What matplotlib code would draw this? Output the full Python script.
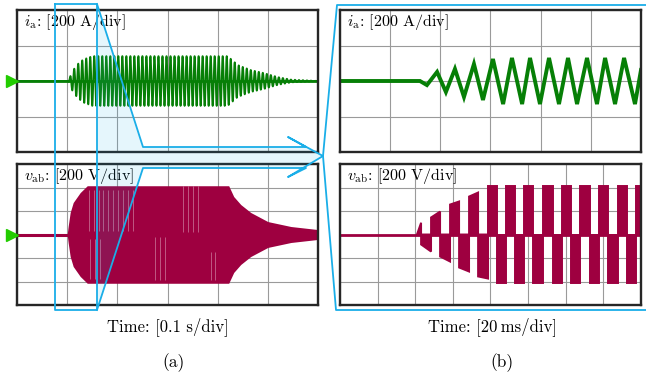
import numpy as np
import matplotlib
matplotlib.use("Agg")
import matplotlib.pyplot as plt
from matplotlib.patches import Polygon

plt.rcParams["mathtext.fontset"] = "cm"
plt.rcParams["font.family"] = ["cmr10", "DejaVu Serif"]

# ---------------- data ----------------
# (a) overview, 0.1 s/div, 6 divisions
ia_env_t = [0.0, 0.102, 0.110, 0.120, 0.132, 0.150, 0.420, 0.440, 0.466, 0.492, 0.520, 0.546, 0.600]
ia_env_A = [0, 0, 53, 93, 121, 140, 140, 90, 62, 45, 22, 8, 0]
ia_carrier_hz = 125.0

vab_env_t = [0.0, 0.100, 0.102, 0.106, 0.112, 0.126, 0.140, 0.422, 0.432, 0.446, 0.466, 0.500, 0.546, 0.600]
vab_env_V = [0, 0, 70, 187, 272, 357, 415, 415, 323, 255, 187, 110, 68, 42]

# thin switching gaps visible inside the voltage band: time [s], from [V], to [V]
vab_gap_t = [0.144, 0.154, 0.164, 0.172, 0.182, 0.192, 0.202, 0.212, 0.222, 0.232,
             0.330, 0.340, 0.350, 0.360,
             0.146, 0.156, 0.166,
             0.276, 0.286, 0.296,
             0.386, 0.394]
vab_gap_lo = [30, 30, 30, 30, 30, 30, 30, 30, 30, 30,
              25, 25, 25, 25,
              -380, -380, -380,
              -25, -25, -25,
              -145, -145]
vab_gap_hi = [380, 380, 380, 380, 380, 380, 380, 380, 380, 380,
              410, 410, 410, 410,
              -40, -40, -40,
              -383, -383, -383,
              -383, -383]

# (b) zoom, 20 ms/div
ib_t = [0.0, 42.5, 46.2, 51.6, 56.3, 61.1, 65.9, 71.2, 76.0, 81.3, 86.7, 91.4, 96.8,
        101.0, 106.3, 111.1, 116.4, 121.2, 126.0, 131.3, 136.6, 140.9, 146.2, 151.0,
        156.8, 160.0]
ib_A = [0, 0, -23, 51, -62, 68, -90, 96, -107, 124, -130, 130, -130,
        130, -130, 130, -130, 130, -130, 130, -130, 130, -130, 130,
        -130, 62]

vb_edges = [40.9, 43.1, 48.4, 53.2, 58.5, 63.3, 68.6, 73.4, 78.7, 83.5, 88.2, 93.0, 97.8,
            102.6, 107.9, 113.2, 118.0, 122.8, 127.6, 132.9, 137.7, 142.5, 147.8, 152.6,
            157.4, 160.0]
vb_h_start = [0, -85, 145, -187, 255, -281, 323, -357, 415, -410, 415, -410, 415,
              -410, 415, -410, 415, -410, 415, -410, 415, -410, 415, -410, 415]
vb_h_end = [100, -145, 195, -230, 281, -315, 357, -375, 415, -410, 415, -410, 415,
            -410, 415, -410, 415, -410, 415, -410, 415, -410, 415, -410, 415]

# ---------------- style ----------------
GREEN = "#067f06"
MAGENTA = "#9e0040"
MARK = "#22cc00"
CYAN = "#1aaee8"
GRID = "#9a9a9a"
FRAME = "#262626"

W, H = 646, 377
fig = plt.figure(figsize=(W / 100, H / 100), dpi=100)


def px_axes(x0, y0, x1, y1):
    return fig.add_axes([x0 / W, 1 - y1 / H, (x1 - x0) / W, (y1 - y0) / H])


def scope(ax, xlim, nx, ylim, ny):
    ax.set_xlim(*xlim)
    ax.set_ylim(*ylim)
    ax.set_xticks(np.linspace(xlim[0], xlim[1], nx + 1))
    ax.set_yticks(np.linspace(ylim[0], ylim[1], ny + 1))
    ax.tick_params(length=0, labelleft=False, labelbottom=False)
    ax.grid(True, color=GRID, lw=0.8)
    ax.set_axisbelow(True)
    for s in ax.spines.values():
        s.set_color(FRAME)
        s.set_linewidth(1.7)
        s.set_zorder(5)


def label(ax, txt):
    ax.text(0.024, 0.915, txt, transform=ax.transAxes, ha="left", va="center",
            fontsize=11.5, zorder=6)


def marker(ax):
    ax.plot([-0.017], [0], marker=">", ms=8, color=MARK, mec=MARK,
            transform=ax.get_yaxis_transform(), clip_on=False, zorder=6)


# (a) current
ax1 = px_axes(17, 10, 318, 152)
scope(ax1, (0, 0.6), 6, (-400, 400), 4)
ta = np.linspace(0, 0.6, 30000)
ia = np.interp(ta, ia_env_t, ia_env_A) * np.sin(2 * np.pi * ia_carrier_hz * ta)
ax1.plot(ta, ia, color=GREEN, lw=1.35)
ax1.plot([0, 0.6], [0, 0], color=GREEN, lw=2.0)
label(ax1, r"$i_{\mathrm{a}}$: [200 A/div]")
marker(ax1)

# (a) voltage
ax2 = px_axes(17, 164, 318, 305)
scope(ax2, (0, 0.6), 6, (-600, 600), 6)
tv = np.linspace(0, 0.6, 4000)
env = np.interp(tv, vab_env_t, vab_env_V)
ax2.fill_between(tv, -env, env, color=MAGENTA, lw=0, zorder=2)
ax2.plot([0, 0.1], [0, 0], color=MAGENTA, lw=2.2, zorder=2)
ax2.vlines(vab_gap_t, vab_gap_lo, vab_gap_hi, color="white", lw=0.6, alpha=0.4, zorder=3)
label(ax2, r"$v_{\mathrm{ab}}$: [200 V/div]")
marker(ax2)

# (b) current
ax3 = px_axes(340, 10, 641, 152)
scope(ax3, (0, 160), 6, (-400, 400), 4)
ax3.plot(ib_t, ib_A, color=GREEN, lw=2.8, solid_joinstyle="miter")
label(ax3, r"$i_{\mathrm{a}}$: [200 A/div]")

# (b) voltage
ax4 = px_axes(340, 164, 641, 305)
scope(ax4, (0, 160), 8, (-600, 600), 6)
ax4.plot([0, 160], [0, 0], color=MAGENTA, lw=2.0, zorder=2)
for t0, t1, h0, h1 in zip(vb_edges[:-1], vb_edges[1:], vb_h_start, vb_h_end):
    ax4.fill([t0, t0, t1, t1], [0, h0, h1, 0], facecolor=MAGENTA, edgecolor=MAGENTA,
             lw=1.4, zorder=2)
label(ax4, r"$v_{\mathrm{ab}}$: [200 V/div]")

# axis captions
fig.text(168 / W, 1 - 327 / H, "Time: [0.1 s/div]", ha="center", va="center", fontsize=12)
fig.text(493 / W, 1 - 327 / H, "Time: [20\u2009ms/div]", ha="center", va="center", fontsize=12)
fig.text(174 / W, 1 - 363 / H, "(a)", ha="center", va="center", fontsize=12.5)
fig.text(502 / W, 1 - 363 / H, "(b)", ha="center", va="center", fontsize=12.5)

# zoom call-out drawn in figure pixel space
ov = fig.add_axes([0, 0, 1, 1], zorder=20)
ov.set_xlim(0, W)
ov.set_ylim(H, 0)
ov.axis("off")
ov.patch.set_alpha(0)

arrow = [(97, 4), (143, 147), (306, 147), (288, 137), (323, 156), (288, 177),
         (306, 168), (143, 168), (97, 310)]
ov.add_patch(Polygon(arrow, closed=True, facecolor=CYAN, alpha=0.11, lw=0))
ax_, ay_ = zip(*arrow)
ov.plot(ax_, ay_, color=CYAN, lw=1.3)
ov.plot([55, 97, 97, 55, 55], [4, 4, 310, 310, 4], color=CYAN, lw=1.3)
ov.plot([646, 337, 323, 336, 646], [5, 5, 156, 310, 310], color=CYAN, lw=1.3)

fig.savefig("out.png", dpi=100)
